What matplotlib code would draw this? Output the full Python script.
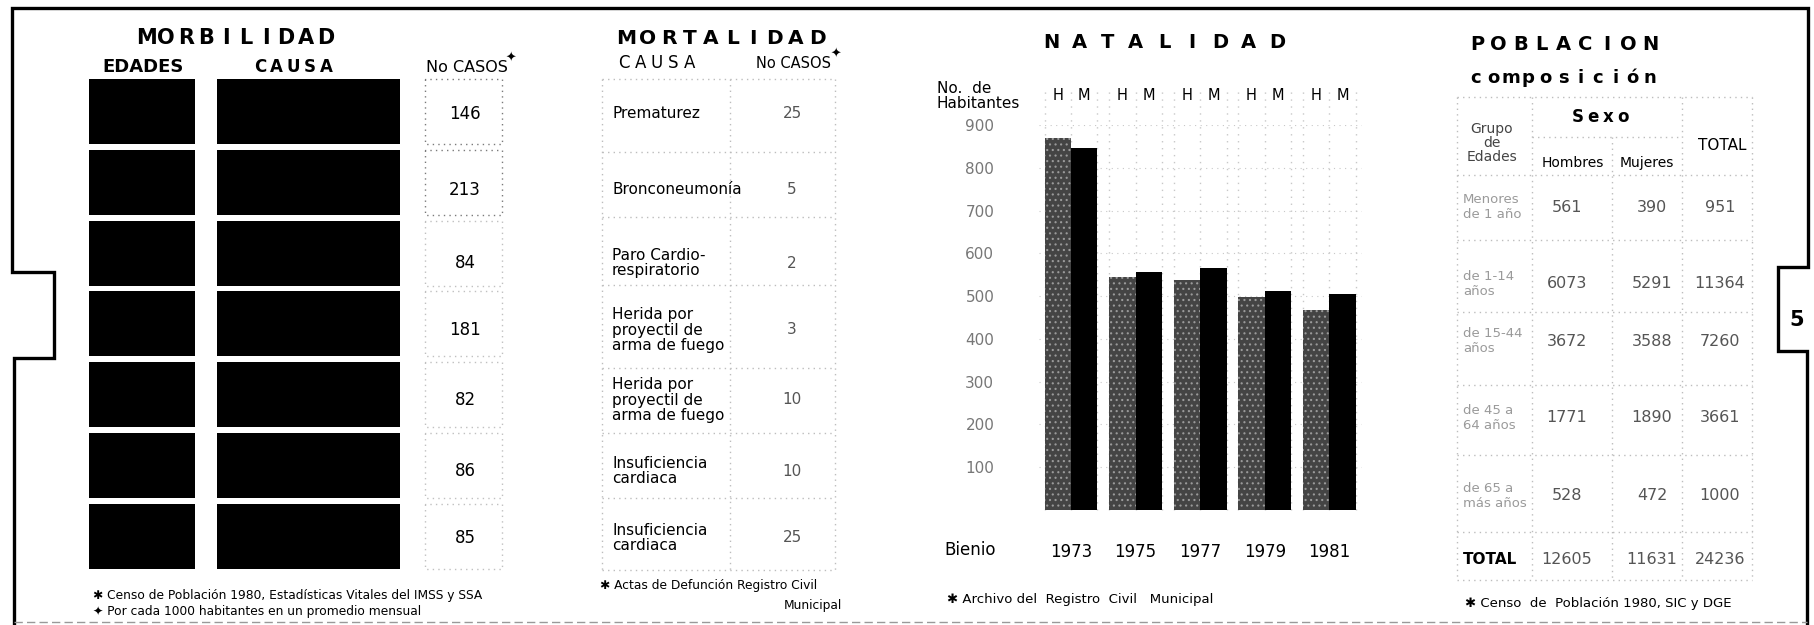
import numpy as np
import matplotlib.pyplot as plt

# ---- datos ----
morb_casos = [146, 213, 84, 181, 82, 86, 85]

mort_causas = ['Prematurez', 'Bronconeumonía', 'Paro Cardio-\nrespiratorio',
               'Herida por\nproyectil de\narma de fuego',
               'Herida por\nproyectil de\narma de fuego',
               'Insuficiencia\ncardiaca', 'Insuficiencia\ncardiaca']
mort_casos = [25, 5, 2, 3, 10, 10, 25]

bienios = ['1973', '1975', '1977', '1979', '1981']
nat_hombres = [870, 545, 538, 498, 468]
nat_mujeres = [847, 557, 566, 512, 505]
nat_ticks = [100, 200, 300, 400, 500, 600, 700, 800, 900]

pob_grupos = ['Menores\nde 1 año', 'de 1-14\naños', 'de 15-44\naños',
              'de 45 a\n64 años', 'de 65 a\nmás años', 'TOTAL']
pob_hombres = [561, 6073, 3672, 1771, 528, 12605]
pob_mujeres = [390, 5291, 3588, 1890, 472, 11631]
pob_total = [951, 11364, 7260, 3661, 1000, 24236]

plt.rcParams['font.family'] = ['DejaVu Sans']

fig = plt.figure(figsize=(18.14, 6.25), dpi=100)
bg = fig.add_axes([0, 0, 1, 1])
bg.set_xlim(0, 1814)
bg.set_ylim(625, 0)
bg.axis('off')


def spaced(x0, x1, y, s, **kw):
    # letras repartidas a lo ancho, como en el original
    for xc, ch in zip(np.linspace(x0, x1, len(s)), s):
        bg.text(xc, y, ch, ha='center', va='center', **kw)


def dots(xs, ys, c='#bdbdbd'):
    bg.plot(xs, ys, ls=(0, (1, 3)), color=c, lw=1)


# marco exterior con pestañas
bg.plot([14, 14, 54, 54, 12, 12, 1808, 1808, 1778, 1778, 1807, 1807],
        [625, 358, 358, 272, 272, 8, 8, 267, 267, 351, 351, 625],
        color='black', lw=2.4, solid_joinstyle='miter')
bg.plot([14, 1807], [622, 622], color='#999999', lw=1, ls=(0, (6, 3)))
bg.text(1797, 320, '5', ha='center', va='center', fontsize=15, weight='bold')

row_y = [114, 190, 263, 330, 400, 471, 538]

# ---- MORBILIDAD ----
spaced(146, 326, 38, 'MORBILIDAD', fontsize=15, weight='heavy')
bg.text(143, 67, 'EDADES', ha='center', va='center', fontsize=13, weight='bold')
spaced(260, 326, 67, 'CAUSA', fontsize=12, weight='bold')
bg.text(467, 67, 'No CASOS', ha='center', va='center', fontsize=11.5)
bg.text(511, 58, '✦', ha='center', va='center', fontsize=9)
for i, v in enumerate(morb_casos):
    top = 79 + 70.8 * i
    bg.add_patch(plt.Rectangle((89, top), 106, 65, color='black', lw=0))
    bg.add_patch(plt.Rectangle((217, top), 183, 65, color='black', lw=0))
    c = '#7a7a7a' if i < 2 else '#c0c0c0'
    dots([425, 425, 502, 502, 425], [top, top + 65, top + 65, top, top], c)
    bg.text(465, row_y[i], str(v), ha='center', va='center', fontsize=12)
bg.text(93, 595, '✱ Censo de Población 1980, Estadísticas Vitales del IMSS y SSA',
        fontsize=8.8, va='center')
bg.text(93, 612, '✦ Por cada 1000 habitantes en un promedio mensual',
        fontsize=8.8, va='center')

# ---- MORTALIDAD ----
spaced(626, 817, 38, 'MORTALIDAD', fontsize=14.5, weight='bold')
spaced(624, 690, 63, 'CAUSA', fontsize=12)
bg.text(793, 63, 'No CASOS', ha='center', va='center', fontsize=10.5)
bg.text(836, 54, '✦', ha='center', va='center', fontsize=9)
mort_edges = [79, 152, 217, 285, 368, 433, 498, 570]
for y in mort_edges:
    dots([602, 835], [y, y])
for x in [602, 730, 835]:
    dots([x, x], [79, 570])
for i, (c, v) in enumerate(zip(mort_causas, mort_casos)):
    bg.text(612, row_y[i], c, ha='left', va='center', fontsize=11,
            linespacing=1.05)
    bg.text(792, row_y[i], str(v), ha='center', va='center', fontsize=11,
            color='#555555')
bg.text(600, 585, '✱ Actas de Defunción Registro Civil', fontsize=8.8,
        va='center')
bg.text(842, 605, 'Municipal', fontsize=8.8, va='center', ha='right')

# ---- NATALIDAD ----
spaced(1051, 1277, 43, 'NATALIDAD', fontsize=14, weight='bold')
bg.text(937, 96, 'No.  de\nHabitantes', ha='left', va='center', fontsize=11,
        linespacing=1.0)
bg.text(944, 550, 'Bienio', ha='left', va='center', fontsize=12)
bg.text(947, 600, '✱ Archivo del  Registro  Civil   Municipal', fontsize=9.5,
        va='center')

nat = fig.add_axes([1038.7 / 1814, (625 - 510) / 625, 323 / 1814, 385 / 625])
nat.set_facecolor('none')
plt.rcParams['hatch.linewidth'] = 0.8
x = np.arange(len(bienios))
w = 0.41
nat.bar(x - w / 2, nat_hombres, w, facecolor='#444444', edgecolor='#9a9a9a',
        hatch='...', lw=0, zorder=3)
nat.bar(x + w / 2, nat_mujeres, w, color='black', lw=0, zorder=3)
nat.set_xlim(-0.5, len(bienios) - 0.5)
nat.set_ylim(0, 900)
for s in nat.spines.values():
    s.set_visible(False)
nat.set_yticks(nat_ticks)
nat.set_yticklabels([str(t) for t in nat_ticks], color='#777777', fontsize=11)
nat.tick_params(axis='y', length=0, pad=32)
nat.set_xticks(x)
nat.set_xticklabels(bienios, fontsize=12)
nat.tick_params(axis='x', length=0, pad=24)
nat.yaxis.grid(True, ls=(0, (1, 4)), color='#c8c8c8')
nat.set_axisbelow(True)
for i in x:
    nat.text(i - w / 2, 970, 'H', ha='center', va='center', fontsize=10.5,
             clip_on=False)
    nat.text(i + w / 2, 970, 'M', ha='center', va='center', fontsize=10.5,
             clip_on=False)
    for xe in [i - w, i, i + w]:
        nat.plot([xe, xe], [0, 990], ls=(0, (1, 4)), color='#c8c8c8', lw=1,
                 clip_on=False, zorder=1)

# ---- POBLACION ----
spaced(1477, 1650, 45, 'POBLACION', fontsize=14, weight='bold')
spaced(1476, 1650, 78, 'composición', fontsize=13, weight='bold')
for y in [97, 175, 240, 312, 385, 455, 532, 580]:
    dots([1457, 1752], [y, y])
dots([1532, 1682], [137, 137])
for xv in [1457, 1532, 1682, 1752]:
    dots([xv, xv], [97, 580])
dots([1612, 1612], [137, 580])
bg.text(1492, 143, 'Grupo\nde\nEdades', ha='center', va='center', fontsize=10,
        linespacing=1.0, color='#444444')
spaced(1578, 1623, 117, 'Sexo', fontsize=12, weight='bold')
bg.text(1573, 163, 'Hombres', ha='center', va='center', fontsize=10)
bg.text(1647, 163, 'Mujeres', ha='center', va='center', fontsize=10)
bg.text(1722, 145, 'TOTAL', ha='center', va='center', fontsize=11)
pob_y = [207, 284, 341, 418, 496, 560]
for i, g in enumerate(pob_grupos):
    last = i == len(pob_grupos) - 1
    bg.text(1463, pob_y[i], g, ha='left', va='center',
            fontsize=11 if last else 9.5, linespacing=1.2,
            weight='bold' if last else 'normal',
            color='black' if last else '#9a9a9a')
    for xv, vals in zip([1567, 1652, 1720], [pob_hombres, pob_mujeres, pob_total]):
        bg.text(xv, pob_y[i], str(vals[i]), ha='center', va='center',
                fontsize=11.5, color='#555555')
bg.text(1465, 603, '✱ Censo  de  Población 1980, SIC y DGE', fontsize=9.5,
        va='center')

fig.savefig('out.png', dpi=100)
